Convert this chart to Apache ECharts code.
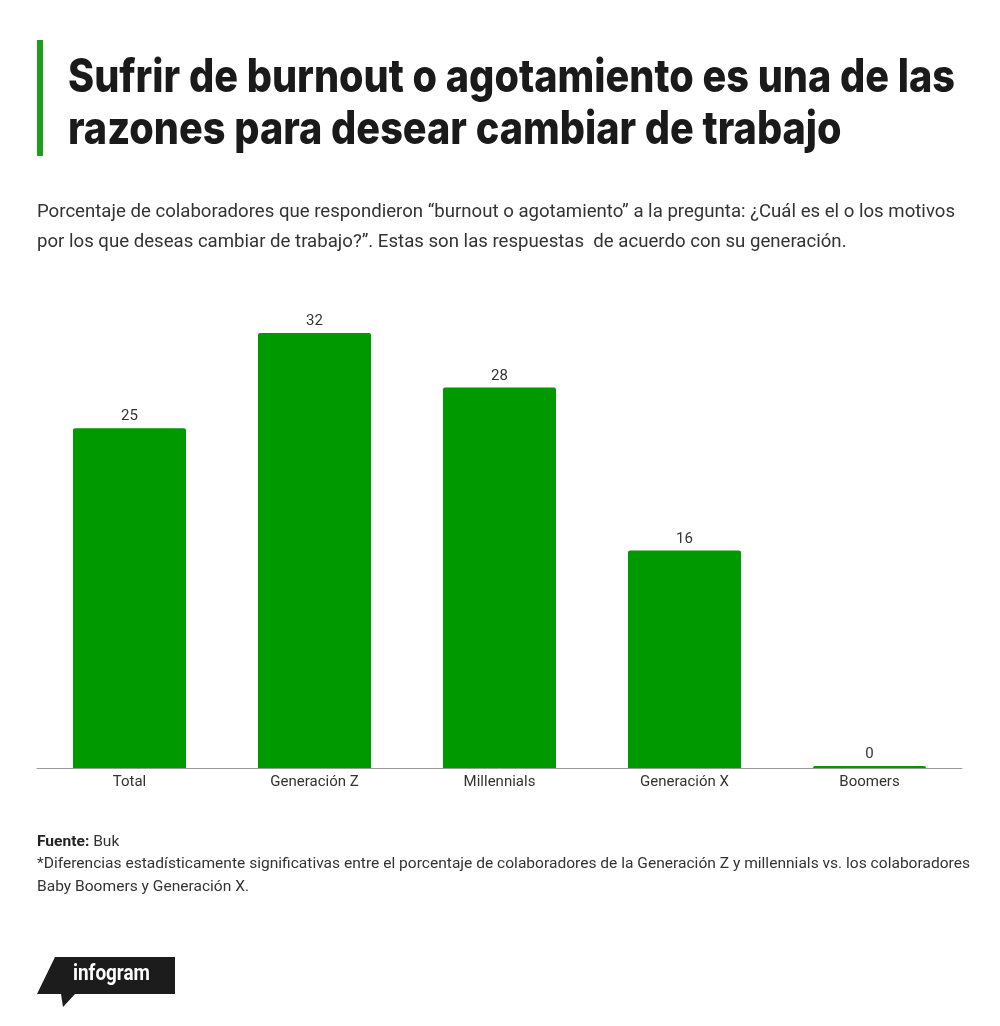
<!DOCTYPE html>
<html><head><meta charset="utf-8">
<script src="https://cdn.jsdelivr.net/npm/echarts@6/dist/echarts.min.js"></script>
<style>html,body{margin:0;padding:0;background:#fff}#c{width:1000px;height:1026px}</style>
</head><body><div id="c"></div>
<script>
const categories = ['Total', 'Generación Z', 'Millennials', 'Generación X', 'Boomers'];
const values = [25, 32, 28, 16, 0];
const titleLines = ['Sufrir de burnout o agotamiento es una de las', 'razones para desear cambiar de trabajo'];
const subtitleLines = ['Porcentaje de colaboradores que respondieron “burnout o agotamiento” a la pregunta: ¿Cuál es el o los motivos', 'por los que deseas cambiar de trabajo?”. Estas son las respuestas  de acuerdo con su generación.'];
const sourceLabel = 'Fuente:';
const sourceName = ' Buk';
const noteLines = ['*Diferencias estadísticamente significativas entre el porcentaje de colaboradores de la Generación Z y millennials vs. los colaboradores', 'Baby Boomers y Generación X.'];
const logoText = 'infogram';

const cv = document.createElement('canvas').getContext('2d');
function w(text, font) { cv.font = font; return cv.measureText(text).width; }
function fitScale(text, font, target) { return target / w(text, font); }

const TF = 'Inter';
const titleFont = `800 46px ${TF}`;
const tScale = fitScale(titleLines[0], titleFont, 887);
const subFont = `18px Roboto`;
const sScale = fitScale(subtitleLines[0], subFont, 918);
const noteFont = `15px Roboto`;
const nScale = fitScale(noteLines[0], noteFont, 933);
const logoFont = `bold 22px Roboto`;
const lScale = fitScale(logoText, logoFont, 77);

function txt(x, y, text, font, size, weight, color, sx) {
  return { type: 'text', x: x, y: y, scaleX: sx, style: { x: 0, y: 0, text: text, fontFamily: font, fontSize: size, fontWeight: weight, fill: color, textVerticalAlign: 'middle', textAlign: 'left' } };
}
const srcBoldW = w(sourceLabel, `bold 15px Roboto`) * nScale;

const chart = echarts.init(document.getElementById('c'), null, { renderer: 'canvas' });
chart.setOption({
  backgroundColor: '#fff',
  animation: false,
  grid: { left: 37, right: 38, top: 333, bottom: 258, containLabel: false },
  xAxis: {
    type: 'category', data: categories,
    axisLine: { lineStyle: { color: '#999', width: 1 } },
    axisTick: { show: false },
    axisLabel: { color: '#333', fontSize: 15, fontFamily: 'Roboto', margin: 7 }
  },
  yAxis: { type: 'value', min: 0, max: 32, show: false, splitLine: { show: false } },
  series: [{
    type: 'bar', data: values, barWidth: 113, barMinHeight: 2,
    itemStyle: { color: '#009a00', borderRadius: [2, 2, 0, 0] },
    label: { show: true, position: 'top', distance: 4, color: '#333', fontSize: 15, fontFamily: 'Roboto' }
  }],
  graphic: [
    { type: 'rect', shape: { x: 37, y: 40, width: 6, height: 116 }, style: { fill: '#1e9e1e' } },
    txt(68, 78, titleLines[0], TF, 46, 800, '#1a1a1a', tScale),
    txt(68, 130, titleLines[1], TF, 46, 800, '#1a1a1a', tScale),
    txt(37, 212, subtitleLines[0], 'Roboto', 18, 'normal', '#333', sScale),
    txt(37, 242, subtitleLines[1], 'Roboto', 18, 'normal', '#333', sScale),
    txt(37, 842, sourceLabel, 'Roboto', 15, 'bold', '#222', nScale),
    txt(37 + srcBoldW, 842, sourceName, 'Roboto', 15, 'normal', '#333', nScale),
    txt(37, 864, noteLines[0], 'Roboto', 15, 'normal', '#333', nScale),
    txt(37, 887, noteLines[1], 'Roboto', 15, 'normal', '#333', nScale),
    { type: 'polygon', shape: { points: [[55, 957], [175, 957], [175, 994], [75, 994], [63, 1007], [61, 994], [37, 994]] }, style: { fill: '#1c1c1c' } },
    txt(73, 974, logoText, 'Roboto', 22, 'bold', '#fff', lScale)
  ]
});
</script></body></html>
